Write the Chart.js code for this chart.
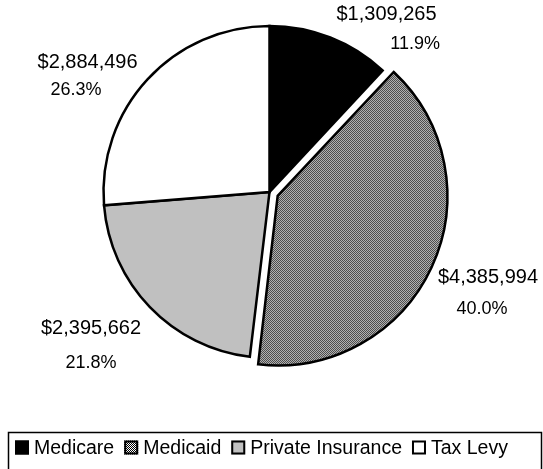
<!DOCTYPE html>
<html>
<head>
<meta charset="utf-8">
<script src="https://cdn.jsdelivr.net/npm/chart.js@4.4.0/dist/chart.umd.min.js"></script>
<style>
    html, body { margin: 0; padding: 0; background: #fff; }
    #wrap { width: 543px; height: 469px; }
</style>
</head>
<body>
<div id="wrap"><canvas id="pie"></canvas></div>
<script>
const categories = ['Medicare', 'Medicaid', 'Private Insurance', 'Tax Levy'];
const amounts = [1309265, 4385994, 2395662, 2884496];
// Chart.js v4 draws an arc's offset at a quarter of the value
const offsets = [0, 36, 0, 0];

// label anchors in units of the pie radius, measured from the pie centre
const labelLayout = [
    { value: [0.705, -1.072], pct: [0.877, -0.892] },
    { value: [1.316, 0.515], pct: [1.280, 0.702] },
    { value: [-1.075, 0.825], pct: [-1.075, 1.030] },
    { value: [-1.096, -0.783], pct: [-1.166, -0.614] }
];

function makeDither() {
    const c = document.createElement('canvas');
    c.width = 2;
    c.height = 2;
    const g = c.getContext('2d');
    g.fillStyle = '#ffffff';
    g.fillRect(0, 0, 2, 2);
    g.fillStyle = '#000000';
    g.fillRect(0, 0, 1, 1);
    g.fillRect(1, 1, 1, 1);
    return g.createPattern(c, 'repeat');
}

const fills = ['#000000', makeDither(), '#c0c0c0', '#ffffff'];
const legendFills = ['#000000', makeDither(), '#c0c0c0', '#ffffff'];

function formatMoney(v) {
    return '$' + v.toLocaleString('en-US');
}

const total = amounts.reduce((a, b) => a + b, 0);

const sliceLabels = {
    id: 'sliceLabels',
    afterDraw(chart) {
        const ctx = chart.ctx;
        const arcs = chart.getDatasetMeta(0).data;
        const cx = arcs[0].x;
        const cy = arcs[0].y;
        const r = arcs[0].outerRadius;
        ctx.save();
        ctx.fillStyle = '#000';
        ctx.textAlign = 'center';
        ctx.textBaseline = 'middle';
        amounts.forEach((v, i) => {
            const lay = labelLayout[i];
            ctx.font = "20px 'Liberation Sans', Arial, sans-serif";
            ctx.fillText(formatMoney(v), cx + lay.value[0] * r, cy + lay.value[1] * r);
            ctx.font = "18px 'Liberation Sans', Arial, sans-serif";
            ctx.fillText((v / total * 100).toFixed(1) + '%', cx + lay.pct[0] * r, cy + lay.pct[1] * r);
        });
        ctx.restore();
    }
};

const boxLegend = {
    id: 'boxLegend',
    afterDraw(chart) {
        const ctx = chart.ctx;
        const top = 432.5;
        ctx.save();
        ctx.strokeStyle = '#000';
        ctx.lineWidth = 1.5;
        ctx.strokeRect(8.5, top, 533, 60);

        ctx.font = "19.5px 'Liberation Sans', Arial, sans-serif";
        ctx.textBaseline = 'middle';
        ctx.textAlign = 'left';
        const mid = 447.5;
        let x = 15;
        categories.forEach((name, i) => {
            ctx.fillStyle = legendFills[i];
            ctx.fillRect(x, mid - 7, 14, 14);
            ctx.lineWidth = 2;
            ctx.strokeRect(x + 1, mid - 6, 12, 12);
            ctx.fillStyle = '#000';
            ctx.fillText(name, x + 19, mid + 1);
            x += 19 + ctx.measureText(name).width + 10;
        });
        ctx.restore();
    }
};

const ctx = document.getElementById('pie');
new Chart(ctx, {
    type: 'pie',
    data: {
        labels: categories,
        datasets: [{
            data: amounts,
            backgroundColor: fills,
            hoverBackgroundColor: fills,
            borderColor: '#000000',
            hoverBorderColor: '#000000',
            borderWidth: 2.5,
            borderJoinStyle: 'miter',
            offset: offsets,
            hoverOffset: 0
        }]
    },
    options: {
        responsive: true,
        maintainAspectRatio: false,
        devicePixelRatio: 1,
        animation: false,
        radius: 166,
        layout: { padding: { top: 20, bottom: 105, left: 0, right: 4 } },
        plugins: {
            legend: { display: false },
            tooltip: { enabled: false }
        },
        events: []
    },
    plugins: [sliceLabels, boxLegend]
});
</script>
</body>
</html>
